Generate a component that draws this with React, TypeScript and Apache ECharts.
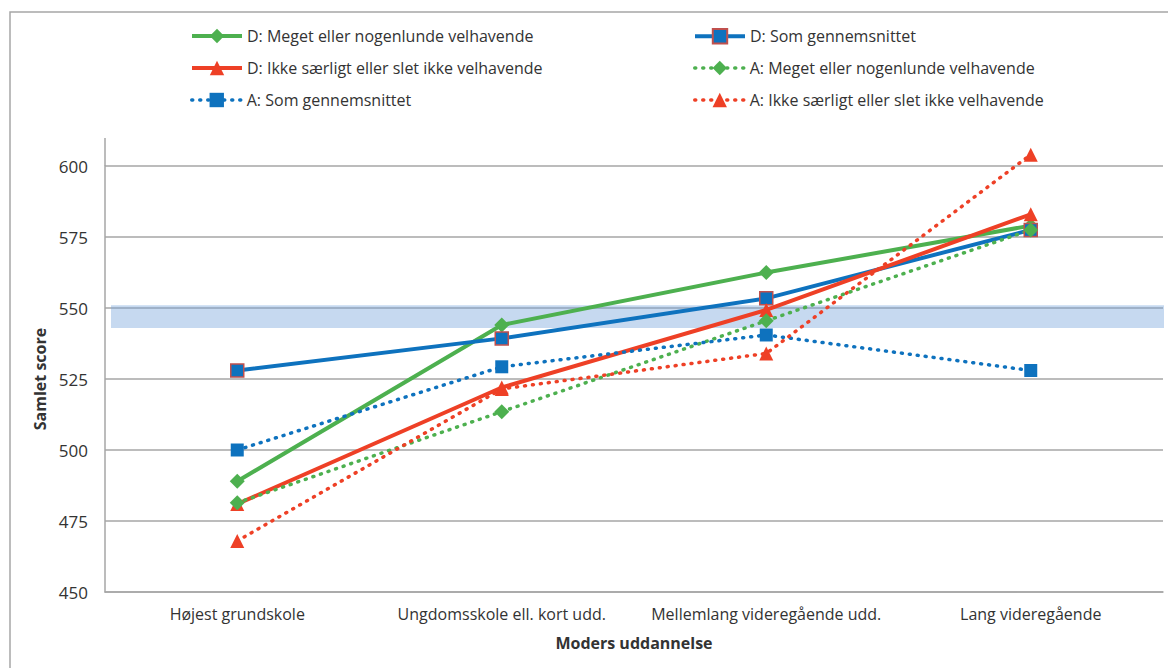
import React, { useEffect, useRef } from "react";
import * as echarts from "echarts";

const categories = [
  "Højest grundskole",
  "Ungdomsskole ell. kort udd.",
  "Mellemlang videregående udd.",
  "Lang videregående",
];

const seriesNames = [
  "D: Meget eller nogenlunde velhavende",
  "D: Som gennemsnittet",
  "D: Ikke særligt eller slet ikke velhavende",
  "A: Meget eller nogenlunde velhavende",
  "A: Som gennemsnittet",
  "A: Ikke særligt eller slet ikke velhavende",
];

const dGreen = [489, 544, 562.5, 579];
const dBlue = [528, 539.3, 553.4, 577.5];
const dRed = [481, 522, 549.3, 583];
const aGreen = [481.4, 513.5, 545.5, 577.5];
const aBlue = [500, 529.3, 540.5, 528];
const aRed = [468, 521.5, 534, 604];

const bandRange = [543, 551];
const yTicks = { min: 450, max: 600, interval: 25 };

const GREEN = "#4DB04F";
const BLUE = "#0E72BE";
const RED = "#EE4026";
const FONT = "'Open Sans', sans-serif";
const TXT = "#333333";

export default function App() {
  const ref = useRef<HTMLDivElement>(null);
  useEffect(() => {
    if (!ref.current) return;
    const chart = echarts.init(ref.current, undefined, { renderer: "svg" });
    const dotted = { type: [1, 7] as any, cap: "round" as const, width: 3.5 };
    const solid = { type: "solid" as const, width: 4 };
    const mk = (
      name: string,
      data: number[],
      color: string,
      symbol: string,
      size: number,
      ls: any,
      border?: string
    ) => ({
      name,
      type: "line",
      data,
      symbol,
      symbolSize: size,
      showAllSymbol: true,
      clip: false,
      lineStyle: { ...ls, color },
      itemStyle: border
        ? { color, borderColor: border, borderWidth: 1.5 }
        : { color, borderWidth: 0 },
      z: 3,
    });
    const legendPos = [
      { left: 185, top: 23, solid: true },
      { left: 688, top: 23, solid: true },
      { left: 185, top: 55, solid: true },
      { left: 688, top: 55, solid: false },
      { left: 185, top: 87, solid: false },
      { left: 688, top: 87, solid: false },
    ];
    chart.setOption({
      animation: false,
      backgroundColor: "#ffffff",
      textStyle: { fontFamily: FONT },
      legend: legendPos.map((p, i) => ({
        left: p.left,
        top: p.top,
        data: [seriesNames[i]],
        itemWidth: 50,
        itemHeight: 18,
        selectedMode: false,
        lineStyle: { width: p.solid ? 4 : 3.5 },
        textStyle: { fontFamily: FONT, fontSize: 16, color: TXT },
      })),
      grid: { left: 105, right: 5, top: 166, bottom: 76 },
      xAxis: {
        type: "category",
        data: categories,
        boundaryGap: true,
        axisLine: { lineStyle: { color: "#A6A6A6", width: 1.5 } },
        axisTick: { show: false },
        axisLabel: { color: TXT, fontSize: 16, margin: 14, fontFamily: FONT, interval: 0 },
        name: "Moders uddannelse",
        nameLocation: "middle",
        nameGap: 43,
        nameTextStyle: { color: TXT, fontSize: 16, fontWeight: "bold", fontFamily: FONT },
      },
      yAxis: {
        type: "value",
        min: yTicks.min,
        max: yTicks.max,
        interval: yTicks.interval,
        axisLine: { show: true, lineStyle: { color: "#A6A6A6", width: 1.5 } },
        axisTick: { show: false },
        splitLine: { lineStyle: { color: "#A6A6A6", width: 1.5 } },
        axisLabel: { color: TXT, fontSize: 17, margin: 17, fontFamily: FONT },
        name: "Samlet score",
        nameLocation: "middle",
        nameGap: 47,
        nameTextStyle: { color: TXT, fontSize: 16, fontWeight: "bold", fontFamily: FONT },
      },
      graphic: [
        {
          type: "rect",
          shape: { x: 10, y: 12, width: 1300, height: 800 },
          style: { fill: "none", stroke: "#A6A6A6", lineWidth: 1.5 },
          silent: true,
        },
        {
          type: "line",
          shape: { x1: 105, y1: 138, x2: 105, y2: 166 },
          style: { stroke: "#A6A6A6", lineWidth: 1.5 },
          silent: true,
        },
      ],
      series: [
        mk(seriesNames[0], dGreen, GREEN, "diamond", 15, solid),
        mk(seriesNames[1], dBlue, BLUE, "rect", 13, solid, "#C0504D"),
        mk(seriesNames[2], dRed, RED, "triangle", 14, solid),
        mk(seriesNames[3], aGreen, GREEN, "diamond", 15, dotted),
        mk(seriesNames[4], aBlue, BLUE, "rect", 13, dotted),
        mk(seriesNames[5], aRed, RED, "triangle", 14, dotted),
        {
          name: "band",
          type: "line",
          data: [],
          z: 10,
          silent: true,
          markArea: {
            silent: true,
            itemStyle: { color: "rgba(112,160,217,0.4)" },
            data: [[{ yAxis: bandRange[0], x: 111 }, { yAxis: bandRange[1], x: 1164 }]],
          },
        },
      ],
    });
    return () => chart.dispose();
  }, []);
  return (
    <div
      ref={ref}
      style={{ position: "fixed", left: 0, top: 0, width: 1168, height: 668 }}
    />
  );
}
